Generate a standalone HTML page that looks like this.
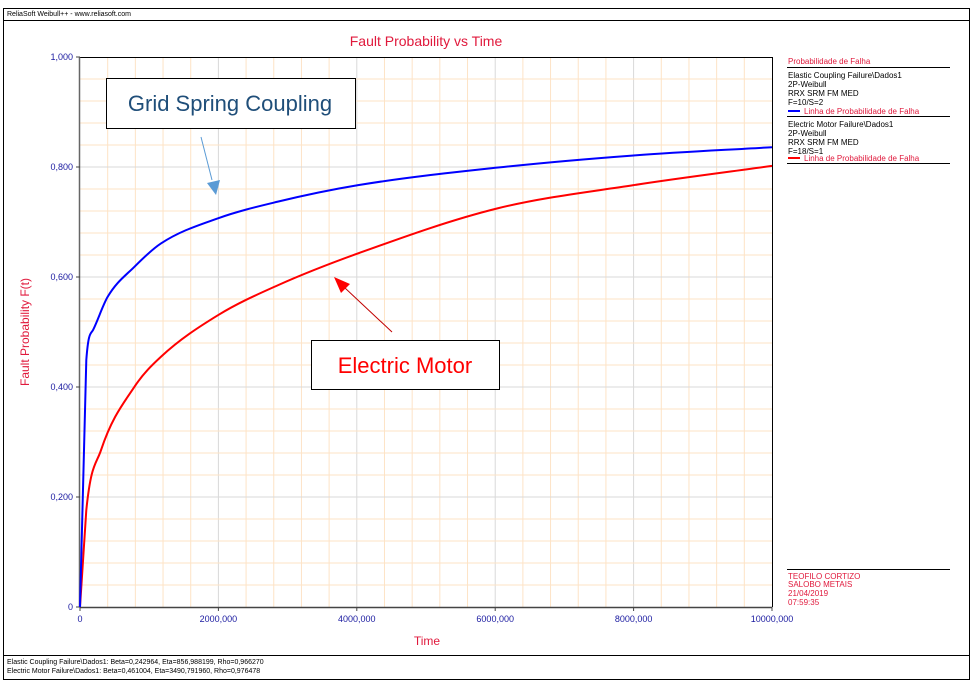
<!DOCTYPE html>
<html><head><meta charset="utf-8"><style>
body{margin:0;background:#fff;font-family:"Liberation Sans",sans-serif}
svg text{font-family:"Liberation Sans",sans-serif}
</style></head><body>
<svg id="c" width="974" height="685" xmlns="http://www.w3.org/2000/svg">
<rect x="0" y="0" width="974" height="685" fill="#fff"/>
<rect x="3.5" y="8.5" width="966" height="671" fill="none" stroke="#000"/>
<line x1="4" y1="20.5" x2="969" y2="20.5" stroke="#000"/>
<text x="7" y="16" font-size="7" fill="#000">ReliaSoft Weibull++ - www.reliasoft.com</text>
<line x1="4" y1="655.5" x2="969" y2="655.5" stroke="#000"/>
<text x="7" y="664" font-size="7" fill="#000">Elastic Coupling Failure\Dados1: Beta=0,242964, Eta=856,988199, Rho=0,966270</text>
<text x="7" y="673" font-size="7" fill="#000">Electric Motor Failure\Dados1: Beta=0,461004, Eta=3490,791960, Rho=0,976478</text>
<text x="426" y="46" font-size="14" fill="#e0193c" text-anchor="middle">Fault Probability vs Time</text>
<g id="grid"></g>
<g id="axes"></g>
<g id="series"></g>
<text x="427" y="645" font-size="12" fill="#e0193c" text-anchor="middle">Time</text>
<text transform="translate(29,332) rotate(-90)" font-size="12" fill="#e0193c" text-anchor="middle">Fault Probability F(t)</text>
<g font-size="8">
<text x="788" y="64" fill="#e0193c">Probabilidade de Falha</text>
<line x1="787" y1="67.5" x2="950" y2="67.5" stroke="#000"/>
<text x="788" y="78" fill="#000">Elastic Coupling Failure\Dados1</text>
<text x="788" y="87" fill="#000">2P-Weibull</text>
<text x="788" y="96" fill="#000">RRX SRM FM MED</text>
<text x="788" y="105" fill="#000">F=10/S=2</text>
<line x1="788" y1="111" x2="800" y2="111" stroke="#0000ff" stroke-width="2"/>
<text x="804" y="114" fill="#e0193c">Linha de Probabilidade de Falha</text>
<line x1="787" y1="116.5" x2="950" y2="116.5" stroke="#000"/>
<text x="788" y="127" fill="#000">Electric Motor Failure\Dados1</text>
<text x="788" y="136" fill="#000">2P-Weibull</text>
<text x="788" y="145" fill="#000">RRX SRM FM MED</text>
<text x="788" y="154" fill="#000">F=18/S=1</text>
<line x1="788" y1="158" x2="800" y2="158" stroke="#ff0000" stroke-width="2"/>
<text x="804" y="161" fill="#e0193c">Linha de Probabilidade de Falha</text>
<line x1="787" y1="163.5" x2="950" y2="163.5" stroke="#000"/>
</g>
<g font-size="8" fill="#e0193c">
<line x1="787" y1="569.5" x2="950" y2="569.5" stroke="#000"/>
<text x="788" y="579">TEOFILO  CORTIZO</text>
<text x="788" y="587">SALOBO METAIS</text>
<text x="788" y="596">21/04/2019</text>
<text x="788" y="605">07:59:35</text>
</g>
<g>
<rect x="106.5" y="78.5" width="249" height="50" fill="#fff" stroke="#000"/>
<text x="230" y="111" font-size="22" fill="#1f4e79" text-anchor="middle">Grid Spring Coupling</text>
<line x1="201" y1="137" x2="212" y2="180" stroke="#5b9bd5" stroke-width="1"/>
<polygon points="207,183 220,180 216,195" fill="#5b9bd5"/>
</g>
<g>
<rect x="311.5" y="340.5" width="188" height="49" fill="#fff" stroke="#000"/>
<text x="405" y="373" font-size="22" fill="#ff0000" text-anchor="middle">Electric Motor</text>
<line x1="392" y1="332" x2="345" y2="288" stroke="#c00000" stroke-width="1"/>
<polygon points="334,277 350,284 341,293" fill="#ff0000"/>
</g>
</svg>
<script>
const xTicks=[0,2000000,4000000,6000000,8000000,10000000];
const xTickLabels=["0","2000,000","4000,000","6000,000","8000,000","10000,000"];
const yTicks=[0,0.2,0.4,0.6,0.8,1.0];
const yTickLabels=["0","0,200","0,400","0,600","0,800","1,000"];
const blueT=[0,91000,190000,400000,790000,1170000,2000000,2860000,4020000,6040000,8000000,10000000];
const blueF=[0,0.449,0.504,0.564,0.619,0.661,0.707,0.737,0.767,0.799,0.821,0.836];
const redT=[0,91000,303000,790000,1170000,2000000,2860000,4020000,6040000,8000000,10000000];
const redF=[0,0.176,0.285,0.401,0.455,0.531,0.585,0.643,0.725,0.767,0.802];
const X0=80,X1=772,Y0=607,Y1=57;
const sx=v=>X0+(v/10000000)*(X1-X0);
const sy=v=>Y0-v*(Y0-Y1);
const NS="http://www.w3.org/2000/svg";
function mk(t,a,p){const e=document.createElementNS(NS,t);for(const k in a)e.setAttribute(k,a[k]);p.appendChild(e);return e;}
const g=document.getElementById('grid'),ax=document.getElementById('axes'),se=document.getElementById('series');
for(let i=1;i<25;i++){const v=i*400000;const x=sx(v);
 const l=mk('line',{x1:x,y1:Y1,x2:x,y2:Y0,stroke:i%5?'#fde3c6':'#d9d9d9'},g);
 
 }
for(let i=1;i<25;i++){const v=i*0.04;const y=sy(v);
 const l=mk('line',{x1:X0,y1:y,x2:X1,y2:y,stroke:i%5?'#fde3c6':'#d9d9d9'},g);
 
 }
mk('line',{x1:X0,y1:Y1+0.5,x2:X1,y2:Y1+0.5,stroke:'#000'},ax);
mk('line',{x1:X1+0.5,y1:Y1,x2:X1+0.5,y2:Y0,stroke:'#000'},ax);
mk('line',{x1:X0,y1:Y0+0.5,x2:X1,y2:Y0+0.5,stroke:'#444','stroke-width':1.5},ax);
mk('line',{x1:X0-0.5,y1:Y1,x2:X0-0.5,y2:Y0,stroke:'#666','stroke-width':1.5},ax);
xTicks.forEach((v,i)=>{const x=sx(v);
 mk('line',{x1:x,y1:Y0,x2:x,y2:Y0+4,stroke:'#444'},ax);
 const t=mk('text',{x:x,y:Y0+15,'font-size':9,fill:'#1a1aa0','text-anchor':'middle'},ax);t.textContent=xTickLabels[i];
 
 });
yTicks.forEach((v,i)=>{const y=sy(v);
 mk('line',{x1:X0-4,y1:y,x2:X0,y2:y,stroke:'#444'},ax);
 const t=mk('text',{x:X0-7,y:y+3,'font-size':9,fill:'#1a1aa0','text-anchor':'end'},ax);t.textContent=yTickLabels[i];
 
 });
function curve(T,F,col,name){
 const n=T.length,x=T.map(sx),y=F.map(sy);
 const d=[],m=[];
 for(let i=0;i<n-1;i++)d.push((y[i+1]-y[i])/(x[i+1]-x[i]));
 m[0]=d[0];m[n-1]=d[n-2];
 for(let i=1;i<n-1;i++){ m[i]=(d[i-1]*d[i]<=0)?0:(d[i-1]+d[i])/2; }
 for(let i=0;i<n-1;i++){ if(d[i]===0){m[i]=m[i+1]=0;continue;}
  const a=m[i]/d[i],b=m[i+1]/d[i],s=a*a+b*b; if(s>9){const t=3/Math.sqrt(s);m[i]=t*a*d[i];m[i+1]=t*b*d[i];}}
 let p='M'+x[0]+','+y[0];
 // first segment straight (steep rise)
 p+=' L'+x[1]+','+y[1];
 for(let i=1;i<n-1;i++){const h=x[i+1]-x[i];
  p+=' C'+(x[i]+h/3)+','+(y[i]+m[i]*h/3)+' '+(x[i+1]-h/3)+','+(y[i+1]-m[i+1]*h/3)+' '+x[i+1]+','+y[i+1];}
 const el=mk('path',{d:p,fill:'none',stroke:col,'stroke-width':2,'stroke-linejoin':'round'},se);
 
 }
curve(redT,redF,'#ff0000','electric-motor-line');
curve(blueT,blueF,'#0000ff','elastic-coupling-line');
</script>
</body></html>
